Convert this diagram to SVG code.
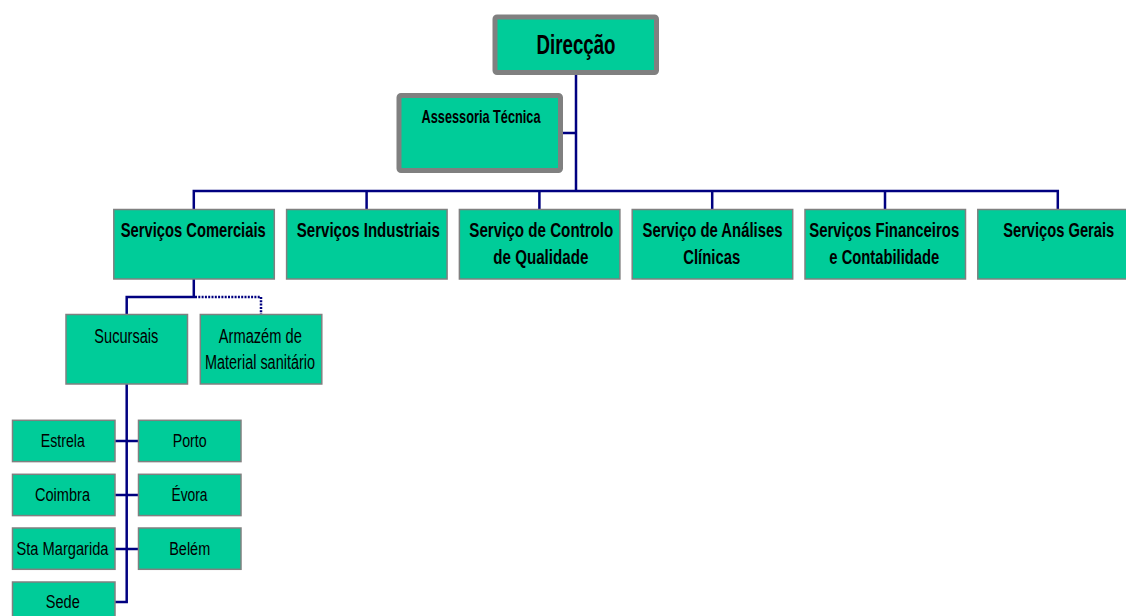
<svg xmlns="http://www.w3.org/2000/svg" width="1126" height="616" viewBox="0 0 1126 616">
<style>
.top{fill:#00CC99;stroke:#808080;stroke-width:5}
.box{fill:#00CC99;stroke:#808080;stroke-width:1.5}
.ln{fill:none;stroke:#000080;stroke-width:2.5}
.dot{fill:none;stroke:#000080;stroke-width:2.5;stroke-dasharray:2 1.3}
text{font-family:"Liberation Sans",Arial,sans-serif;fill:#000;text-anchor:middle}
.b{font-weight:bold;font-size:15px}
.n{font-size:14.6px}
.s{font-size:14.2px}
</style>
<rect width="1126" height="616" fill="#fff"/>
<g id="connectors">
<path class="ln" d="M576,75 V191 M563,133 H576"/>
<path class="ln" d="M193.8,209 V191 H1057.8 V209 M366.6,191 V209 M539.4,191 V209 M712.2,191 V209 M885,191 V209"/>
<path class="ln" d="M193.8,279 V297 H126.7 V314"/>
<path class="dot" d="M195,297 H261 V314"/>
<path class="ln" d="M126.7,384 V602 H115 M115,441 H138.3 M115,495 H138.3 M115,549 H138.3"/>
</g>
<g id="direccao">
<rect class="top" x="495" y="17" width="161.5" height="55.5" rx="2"/>
<text class="b" style="font-size:18.7px" transform="translate(576 53.5) scale(1 1.49)" textLength="79" lengthAdjust="spacingAndGlyphs">Direcção</text>
</g>
<g id="assessoria">
<rect class="top" x="399" y="95.5" width="161.5" height="75" rx="2"/>
<text class="b" style="font-size:12.7px" transform="translate(481 123.3) scale(1 1.43)" textLength="119" lengthAdjust="spacingAndGlyphs">Assessoria Técnica</text>
</g>
<g id="servicos-comerciais">
<rect class="box" x="113.8" y="209.5" width="160.5" height="69.5"/>
<text class="b" transform="translate(193.2 236.5) scale(1 1.33)" textLength="145" lengthAdjust="spacingAndGlyphs">Serviços Comerciais</text>
</g>
<g id="servicos-industriais">
<rect class="box" x="286.6" y="209.5" width="160.5" height="69.5"/>
<text class="b" transform="translate(368.3 236.5) scale(1 1.33)" textLength="143" lengthAdjust="spacingAndGlyphs">Serviços Industriais</text>
</g>
<g id="controlo-qualidade">
<rect class="box" x="459.4" y="209.5" width="160.5" height="69.5"/>
<text class="b" transform="translate(541.3 236.5) scale(1 1.33)" textLength="144" lengthAdjust="spacingAndGlyphs">Serviço de Controlo</text>
<text class="b" transform="translate(540.8 264) scale(1 1.33)" textLength="95" lengthAdjust="spacingAndGlyphs">de Qualidade</text>
</g>
<g id="analises-clinicas">
<rect class="box" x="632.2" y="209.5" width="160.5" height="69.5"/>
<text class="b" transform="translate(712.5 236.5) scale(1 1.33)" textLength="140" lengthAdjust="spacingAndGlyphs">Serviço de Análises</text>
<text class="b" transform="translate(711.7 264) scale(1 1.33)" textLength="57" lengthAdjust="spacingAndGlyphs">Clínicas</text>
</g>
<g id="financeiros">
<rect class="box" x="805" y="209.5" width="160.5" height="69.5"/>
<text class="b" transform="translate(884.2 236.5) scale(1 1.33)" textLength="150" lengthAdjust="spacingAndGlyphs">Serviços Financeiros</text>
<text class="b" transform="translate(884.3 264) scale(1 1.33)" textLength="110" lengthAdjust="spacingAndGlyphs">e Contabilidade</text>
</g>
<g id="servicos-gerais">
<rect class="box" x="977.8" y="209.5" width="160.5" height="69.5"/>
<text class="b" transform="translate(1058.7 236.5) scale(1 1.33)" textLength="111" lengthAdjust="spacingAndGlyphs">Serviços Gerais</text>
</g>
<g id="sucursais">
<rect class="box" x="66" y="314.5" width="121.5" height="69.5"/>
<text class="n" transform="translate(126.3 342.5) scale(1 1.34)" textLength="64" lengthAdjust="spacingAndGlyphs">Sucursais</text>
</g>
<g id="armazem">
<rect class="box" x="200.3" y="314.5" width="121.5" height="69.5"/>
<text class="n" transform="translate(260.3 342.7) scale(1 1.34)" textLength="83" lengthAdjust="spacingAndGlyphs">Armazém de</text>
<text class="n" transform="translate(260 369.3) scale(1 1.34)" textLength="110" lengthAdjust="spacingAndGlyphs">Material sanitário</text>
</g>
<g id="estrela">
<rect class="box" x="12.5" y="420.3" width="102.5" height="41.3"/>
<text class="s" transform="translate(62.8 446.7) scale(1 1.32)" textLength="44" lengthAdjust="spacingAndGlyphs">Estrela</text>
</g>
<g id="porto">
<rect class="box" x="138.5" y="420.3" width="102.5" height="41.3"/>
<text class="s" transform="translate(189.7 446.7) scale(1 1.32)" textLength="34" lengthAdjust="spacingAndGlyphs">Porto</text>
</g>
<g id="coimbra">
<rect class="box" x="12.5" y="474.3" width="102.5" height="41.3"/>
<text class="s" transform="translate(62.5 500.7) scale(1 1.32)" textLength="55" lengthAdjust="spacingAndGlyphs">Coimbra</text>
</g>
<g id="evora">
<rect class="box" x="138.5" y="474.3" width="102.5" height="41.3"/>
<text class="s" transform="translate(189.5 500.7) scale(1 1.32)" textLength="36" lengthAdjust="spacingAndGlyphs">Évora</text>
</g>
<g id="sta-margarida">
<rect class="box" x="12.5" y="528" width="102.5" height="41.3"/>
<text class="s" transform="translate(62.5 555) scale(1 1.32)" textLength="92" lengthAdjust="spacingAndGlyphs">Sta Margarida</text>
</g>
<g id="belem">
<rect class="box" x="138.5" y="528" width="102.5" height="41.3"/>
<text class="s" transform="translate(189.7 555) scale(1 1.32)" textLength="41" lengthAdjust="spacingAndGlyphs">Belém</text>
</g>
<g id="sede">
<rect class="box" x="12.5" y="582" width="102.5" height="41.3"/>
<text class="s" transform="translate(62.8 608.3) scale(1 1.32)" textLength="34" lengthAdjust="spacingAndGlyphs">Sede</text>
</g>
</svg>
